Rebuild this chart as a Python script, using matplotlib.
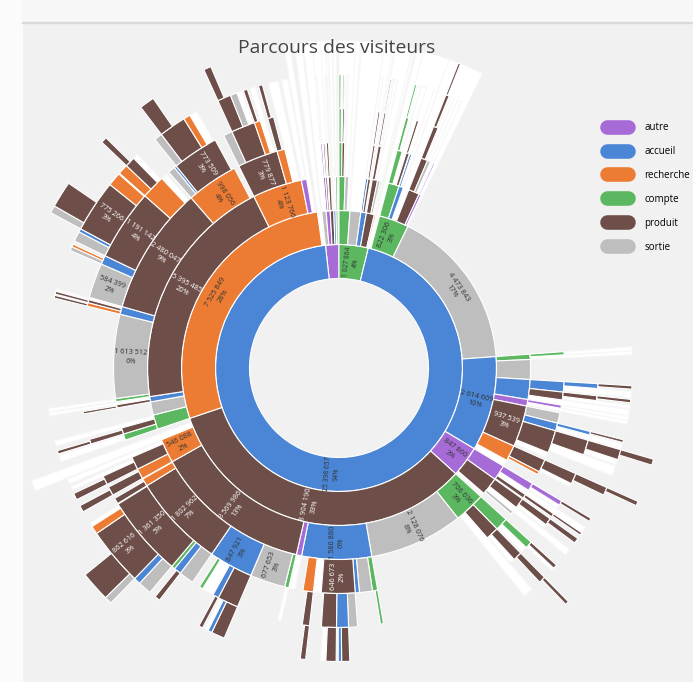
import numpy as np
import matplotlib.pyplot as plt
from matplotlib.lines import Line2D
from matplotlib.patches import Rectangle, Wedge

plt.rcParams['font.family'] = ['Open Sans', 'DejaVu Sans']

# --- Data: one list per ring, entries are (parent index in previous ring, category, visits) ---
# 'blanc' = faded slice in its own ring, 'fondu' = faded branch running outwards
ring1 = [(-1, 'autre', 470000), (-1, 'compte', 1027864), (-1, 'accueil', 25398657)]

ring2 = [
    (0, 'sortie', 120000), (0, 'autre', 110000), (0, 'produit', 100000), (0, 'accueil', 60000),
    (0, 'compte', 50000),
    (1, 'compte', 300000), (1, 'sortie', 300000), (1, 'accueil', 150000), (1, 'produit', 220000),
    (1, 'recherche', 40000),
    (2, 'fondu', 90000), (2, 'compte', 822306), (2, 'sortie', 4473843), (2, 'accueil', 2614609),
    (2, 'autre', 847860), (2, 'produit', 8904190), (2, 'recherche', 7525849), (2, 'fondu', 100000),
]

ring3 = [
    (1, 'autre', 50000), (1, 'produit', 40000), (2, 'produit', 60000), (2, 'fondu', 30000),
    (3, 'fondu', 50000), (4, 'compte', 40000),
    (5, 'compte', 140000), (5, 'sortie', 80000), (5, 'fondu', 60000),
    (7, 'accueil', 50000), (7, 'produit', 60000), (7, 'fondu', 30000),
    (8, 'produit', 120000), (8, 'sortie', 60000), (8, 'compte', 30000),
    (9, 'fondu', 30000),
    (11, 'compte', 250000), (11, 'accueil', 100000), (11, 'fondu', 130000), (11, 'produit', 250000),
    (11, 'autre', 50000),
    (13, 'compte', 120000), (13, 'sortie', 450000), (13, 'accueil', 450000), (13, 'autre', 150000),
    (13, 'produit', 937539), (13, 'recherche', 357630), (13, 'blanc', 140000),
    (14, 'autre', 350000), (14, 'produit', 400000), (14, 'blanc', 60000),
    (15, 'compte', 706036), (15, 'sortie', 2128076), (15, 'accueil', 1580880), (15, 'autre', 120000),
    (15, 'produit', 3569986), (15, 'recherche', 546088), (15, 'fondu', 140000),
    (16, 'compte', 330000), (16, 'sortie', 300000), (16, 'accueil', 120000), (16, 'produit', 5395485),
    (16, 'recherche', 1123766), (16, 'autre', 120000), (16, 'fondu', 80000),
]

ring4 = [
    (0, 'autre', 30000), (1, 'produit', 30000), (2, 'produit', 40000), (2, 'fondu', 20000),
    (5, 'fondu', 40000), (6, 'compte', 60000), (6, 'produit', 50000), (6, 'fondu', 30000),
    (9, 'fondu', 50000), (10, 'produit', 40000), (12, 'produit', 60000), (12, 'fondu', 50000),
    (14, 'compte', 20000), (16, 'compte', 100000), (16, 'fondu', 80000), (16, 'produit', 60000),
    (17, 'accueil', 40000), (17, 'fondu', 60000), (19, 'produit', 130000), (19, 'sortie', 60000),
    (19, 'fondu', 60000), (20, 'autre', 30000), (21, 'compte', 60000), (21, 'fondu', 60000),
    (23, 'accueil', 200000), (23, 'produit', 150000), (23, 'fondu', 100000),
    (24, 'autre', 60000), (24, 'fondu', 60000),
    (25, 'sortie', 200000), (25, 'accueil', 150000), (25, 'produit', 436690), (25, 'blanc', 100000),
    (26, 'produit', 250000), (26, 'recherche', 60000),
    (28, 'autre', 150000), (28, 'fondu', 100000), (28, 'produit', 80000),
    (29, 'produit', 200000), (29, 'fondu', 100000), (29, 'sortie', 60000),
    (31, 'compte', 250000), (31, 'produit', 250000), (31, 'fondu', 150000),
    (33, 'compte', 100000), (33, 'sortie', 250000), (33, 'accueil', 80000), (33, 'produit', 646673),
    (33, 'blanc', 150000), (33, 'recherche', 200000),
    (34, 'blanc', 100000),
    (35, 'compte', 80000), (35, 'sortie', 677653), (35, 'accueil', 847921), (35, 'produit', 1802962),
    (35, 'recherche', 150000),
    (36, 'recherche', 200000), (36, 'produit', 250000), (36, 'fondu', 80000),
    (38, 'compte', 120000), (38, 'produit', 120000), (38, 'fondu', 80000),
    (40, 'produit', 60000), (40, 'fondu', 50000),
    (41, 'compte', 60000), (41, 'sortie', 1613512), (41, 'accueil', 150000), (41, 'produit', 2480047),
    (41, 'recherche', 998056),
    (42, 'produit', 779877), (42, 'recherche', 150000), (42, 'fondu', 150000),
    (43, 'fondu', 100000),
]

ring5 = [
    (0, 'fondu', 30000), (5, 'compte', 40000), (6, 'produit', 30000), (9, 'produit', 30000),
    (10, 'produit', 30000), (10, 'fondu', 30000), (13, 'compte', 50000), (13, 'fondu', 50000),
    (15, 'produit', 40000), (18, 'produit', 80000), (18, 'fondu', 50000), (22, 'fondu', 60000),
    (24, 'accueil', 80000), (24, 'fondu', 100000), (25, 'produit', 80000), (25, 'fondu', 60000),
    (27, 'fondu', 60000), (30, 'accueil', 60000), (30, 'fondu', 80000),
    (31, 'produit', 250000), (31, 'fondu', 150000), (33, 'produit', 180000), (33, 'blanc', 60000),
    (35, 'autre', 80000), (35, 'blanc', 60000), (37, 'produit', 60000),
    (38, 'produit', 120000), (38, 'blanc', 60000), (41, 'compte', 120000), (41, 'blanc', 100000),
    (42, 'produit', 150000), (42, 'blanc', 80000), (44, 'compte', 50000),
    (47, 'sortie', 150000), (47, 'accueil', 200000), (47, 'produit', 250000),
    (49, 'produit', 120000), (51, 'blanc', 60000),
    (53, 'produit', 350000), (53, 'accueil', 100000), (53, 'blanc', 200000), (53, 'compte', 60000),
    (54, 'sortie', 250000), (54, 'accueil', 120000), (54, 'compte', 60000), (54, 'produit', 1361350),
    (55, 'produit', 100000), (56, 'produit', 150000), (57, 'produit', 150000), (57, 'fondu', 60000),
    (59, 'fondu', 100000), (60, 'produit', 80000), (62, 'produit', 40000), (64, 'fondu', 50000),
    (66, 'recherche', 60000), (66, 'produit', 50000), (66, 'fondu', 30000),
    (67, 'sortie', 584399), (67, 'accueil', 150000), (67, 'produit', 1191142),
    (67, 'recherche', 400000), (67, 'blanc', 100000),
    (68, 'sortie', 120000), (68, 'accueil', 40000), (68, 'produit', 773509),
    (69, 'sortie', 150000), (69, 'produit', 400000), (69, 'recherche', 100000), (69, 'fondu', 80000),
    (70, 'produit', 100000),
]

ring6 = [
    (1, 'compte', 30000), (2, 'produit', 20000), (4, 'produit', 20000), (6, 'compte', 30000),
    (9, 'produit', 50000), (12, 'produit', 50000), (14, 'produit', 50000), (17, 'produit', 40000),
    (19, 'produit', 150000), (19, 'fondu', 80000), (21, 'produit', 120000), (23, 'produit', 50000),
    (25, 'produit', 40000), (26, 'produit', 80000), (28, 'produit', 60000), (28, 'blanc', 50000),
    (30, 'produit', 100000), (34, 'produit', 120000), (34, 'accueil', 50000),
    (35, 'produit', 150000), (35, 'blanc', 80000), (36, 'produit', 80000),
    (38, 'produit', 200000), (38, 'accueil', 60000), (38, 'blanc', 60000), (39, 'produit', 60000),
    (43, 'produit', 80000),
    (45, 'sortie', 200000), (45, 'accueil', 100000), (45, 'produit', 862616), (45, 'recherche', 120000),
    (45, 'fondu', 60000),
    (47, 'produit', 100000), (48, 'produit', 100000), (51, 'produit', 50000), (54, 'produit', 40000),
    (55, 'produit', 40000), (58, 'sortie', 60000), (58, 'recherche', 40000),
    (59, 'sortie', 150000), (59, 'accueil', 50000), (59, 'produit', 775266), (59, 'recherche', 200000),
    (60, 'recherche', 150000), (60, 'produit', 150000), (60, 'blanc', 80000),
    (64, 'sortie', 120000), (64, 'produit', 400000), (64, 'recherche', 100000), (64, 'fondu', 120000),
    (66, 'produit', 200000), (66, 'sortie', 100000), (66, 'blanc', 80000),
    (67, 'produit', 60000), (69, 'produit', 60000),
]

ring7 = [
    (4, 'produit', 30000), (8, 'produit', 80000), (10, 'produit', 60000), (16, 'produit', 50000),
    (29, 'sortie', 100000), (29, 'produit', 400000), (41, 'sortie', 100000), (41, 'produit', 350000),
    (44, 'produit', 80000), (47, 'produit', 200000), (50, 'produit', 100000),
]

legend_cats = ['autre', 'accueil', 'recherche', 'compte', 'produit', 'sortie']
colors = {'autre': '#a66bd6', 'accueil': '#4a86d5', 'recherche': '#ec7b33', 'compte': '#5cb860',
          'produit': '#6d4e49', 'sortie': '#bebebe', 'blanc': '#ffffff', 'fondu': '#ffffff'}

# ring-2 branches at the top whose deeper levels fade to white
faded_branches = [0, 1, 2, 3, 4, 5, 6, 7, 8, 9, 11]

rings = [ring1, ring2, ring3, ring4, ring5, ring6, ring7]
total = sum(v for _, _, v in ring1)

# --- Layout: children follow their parent, remainder left empty ---
layouts = [[(i, v) for i, (_, _, v) in enumerate(ring1)]]
for ring in rings[1:]:
    cur = []
    for node, v in layouts[-1]:
        used = 0
        if node is not None:
            for j, (p, c, val) in enumerate(ring):
                if p == node:
                    cur.append((j, val))
                    used += val
        if v - used > 0:
            cur.append((None, v - used))
    layouts.append(cur)

# --- Figure ---
W, H = 693, 682
cx, cy = 339, 368
r_hole, ring_w = 89.5, 34
r_max = r_hole + ring_w * len(rings)

fig = plt.figure(figsize=(W / 100, H / 100), dpi=100, facecolor='#f1f1f1')
fig.patches.append(Rectangle((0, 0), 22 / W, 1, transform=fig.transFigure, color='#fbfbfb', zorder=0))
fig.patches.append(Rectangle((22 / W, 1 - 22 / H), 1, 22 / H, transform=fig.transFigure,
                             color='#f7f7f7', zorder=0))
fig.patches.append(Rectangle((22 / W, 1 - 23 / H), 1, 1.2 / H, transform=fig.transFigure,
                             color='#dadada', zorder=0))

ax = fig.add_axes([0, 0, 1, 1])
ax.patch.set_alpha(0)

for k, (ring, lay) in enumerate(zip(rings, layouts)):
    vals = [v for _, v in lay]
    cols = [colors[ring[n][1]] if n is not None else 'none' for n, _ in lay]
    r_out = r_hole + ring_w * (k + 1)
    wedges, _ = ax.pie(vals, radius=r_out, startangle=96.3, counterclock=False, colors=cols,
                       wedgeprops=dict(width=ring_w, edgecolor='white', linewidth=0.8))
    for w, (n, v) in zip(wedges, lay):
        if n is None:
            w.set_visible(False)
            continue
        cat = ring[n][1]
        if k == 1 and n in faded_branches:
            ax.add_patch(Wedge((0, 0), r_max, w.theta1, w.theta2, width=r_max - r_out,
                               facecolor='white', edgecolor='#f7f7f7', linewidth=0.6, zorder=0.4))
        if cat in ('blanc', 'fondu'):
            if cat == 'fondu':
                r_end = r_max if k <= 2 else r_max - ring_w
                w.set_radius(r_end)
                w.set_width(r_end - (r_out - ring_w))
            w.set_edgecolor('#f7f7f7')
            w.set_zorder(0.5)
            continue
        span = abs(w.theta2 - w.theta1)
        if span < 7:
            continue
        mid = (w.theta1 + w.theta2) / 2
        rm = r_out - ring_w / 2
        x, y = rm * np.cos(np.radians(mid)), rm * np.sin(np.radians(mid))
        if k == 1 and 40 <= span <= 110:
            rot = (mid % 180) - 90
        else:
            rot = ((mid + 90) % 180) - 90
        txt = f"{v:,}".replace(',', ' ') + f"\n{round(100 * v / total)}%"
        ax.text(x, y, txt, ha='center', va='center', rotation=rot, rotation_mode='anchor',
                fontsize=4.8 if k == 0 else 5.3, linespacing=1.3,
                color='white' if cat == 'produit' else '#333333', zorder=5)

ax.set_xlim(-cx, W - cx)
ax.set_ylim(cy - H, cy)
ax.set_aspect('equal')
ax.axis('off')

fig.text(337 / W, 1 - 48 / H, 'Parcours des visiteurs', ha='center', va='center',
         fontsize=13.9, color='#444444')

handles = [Line2D([0], [0], color=colors[c], lw=10.5, solid_capstyle='round') for c in legend_cats]
fig.legend(handles, legend_cats, loc='upper left', bbox_to_anchor=(607 / W, 1 - 122 / H),
           frameon=False, fontsize=7, handlelength=2.2, labelspacing=1.33, handletextpad=1.65,
           borderaxespad=0, borderpad=0)

fig.savefig('out.png', dpi=100, facecolor=fig.get_facecolor())
